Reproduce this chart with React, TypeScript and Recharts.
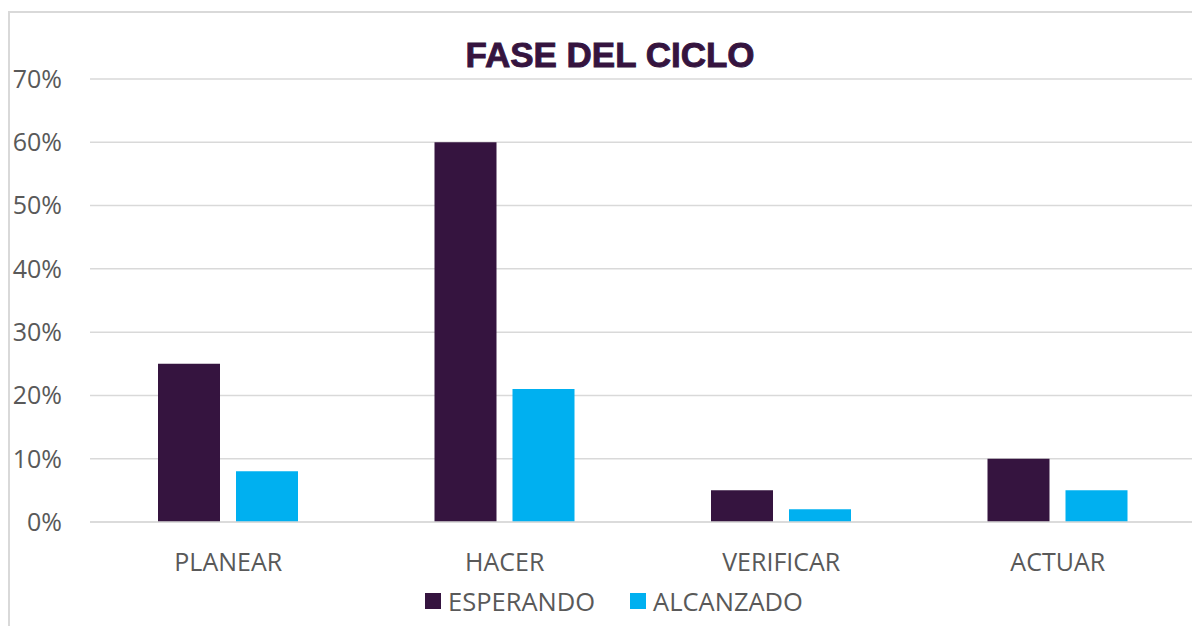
import { Bar, BarChart, CartesianGrid, XAxis, YAxis } from "recharts";

const categories = ["PLANEAR", "HACER", "VERIFICAR", "ACTUAR"];
const esperando = [0.25, 0.6, 0.05, 0.1];
const alcanzado = [0.08, 0.21, 0.02, 0.05];
const yTicks = [0, 0.1, 0.2, 0.3, 0.4, 0.5, 0.6, 0.7];

const PURPLE = "#35143F";
const BLUE = "#00B0F0";
const TEXT = "#595959";
const FONT = "'Open Sans', 'Noto Sans', sans-serif";

const data = categories.map((name, i) => ({
  name,
  esperando: esperando[i],
  alcanzado: alcanzado[i],
}));

const legendItems = [
  { label: "ESPERANDO", color: PURPLE },
  { label: "ALCANZADO", color: BLUE },
];

function LegendBox() {
  return (
    <div
      style={{
        position: "absolute",
        left: 425,
        top: 584,
        display: "flex",
        gap: 35,
        fontFamily: FONT,
        fontSize: 25.5,
        color: TEXT,
      }}
    >
      {legendItems.map((it) => (
        <div key={it.label} style={{ display: "flex", alignItems: "center", gap: 7 }}>
          <span style={{ width: 16, height: 16, background: it.color, display: "inline-block" }} />
          <span>{it.label}</span>
        </div>
      ))}
    </div>
  );
}

export default function App() {
  return (
    <div style={{ position: "relative", width: 1200, height: 634, margin: -8, overflow: "hidden", background: "#fff" }}>
      <div
        style={{
          position: "absolute",
          left: 8,
          top: 11,
          width: 1200,
          height: 640,
          borderLeft: "2px solid #D9D9D9",
          borderTop: "2px solid #D9D9D9",
        }}
      />
      <div
        style={{
          position: "absolute",
          top: 35,
          left: 0,
          width: 1220,
          textAlign: "center",
          fontFamily: "'Liberation Sans', Arial, sans-serif",
          fontWeight: 700,
          fontSize: 35,
          color: PURPLE,
          WebkitTextStroke: `0.9px ${PURPLE}`,
        }}
      >
        FASE DEL CICLO
      </div>
      <div style={{ position: "absolute", left: 0, top: 0 }}>
        <BarChart
          width={1200}
          height={634}
          data={data}
          margin={{ top: 79, right: 4, bottom: 82, left: 0 }}
          barSize={62}
          barGap={16}
        >
          <CartesianGrid vertical={false} stroke="#D9D9D9" strokeWidth={1.5} />
          <XAxis
            dataKey="name"
            height={30}
            axisLine={{ stroke: "#D9D9D9", strokeWidth: 1.5 }}
            tickLine={false}
            tickSize={0}
            tickMargin={31}
            tick={{ fill: TEXT, fontSize: 25, fontFamily: FONT }}
          />
          <YAxis
            width={90}
            domain={[0, 0.7]}
            ticks={yTicks}
            axisLine={false}
            tickLine={false}
            tickSize={0}
            tickMargin={28}
            tickFormatter={(v: number) => `${Math.round(v * 100)}%`}
            tick={{ fill: TEXT, fontSize: 25, fontFamily: FONT }}
          />
          <Bar dataKey="esperando" name="ESPERANDO" fill={PURPLE} isAnimationActive={false} />
          <Bar dataKey="alcanzado" name="ALCANZADO" fill={BLUE} isAnimationActive={false} />
        </BarChart>
      </div>
      <LegendBox />
    </div>
  );
}
